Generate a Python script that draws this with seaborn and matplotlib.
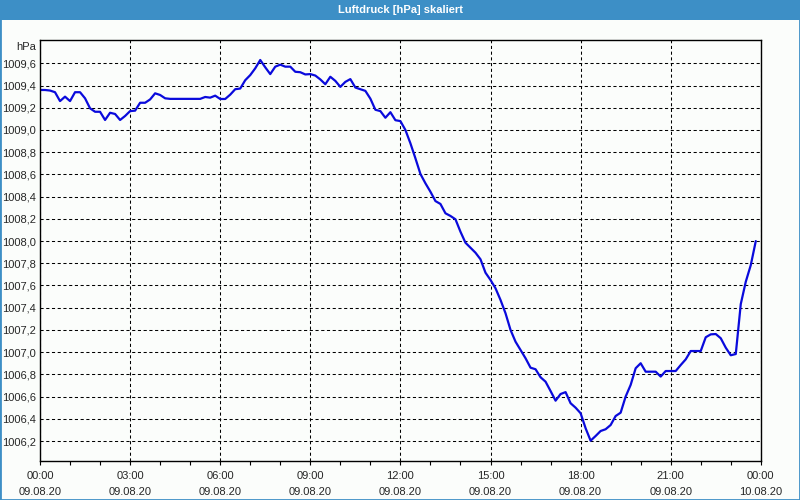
import matplotlib
matplotlib.use("Agg")
import matplotlib.pyplot as plt
import matplotlib.dates as mdates
from matplotlib.patches import Rectangle
from matplotlib.ticker import FixedLocator, FuncFormatter
import seaborn as sns
import numpy as np
import pandas as pd

# readings every 10 minutes, one row per hour (09.08.20 00:00 .. 23:50)
hour_00 = [1009.36, 1009.36, 1009.355, 1009.34, 1009.26, 1009.30]
hour_01 = [1009.26, 1009.34, 1009.34, 1009.285, 1009.195, 1009.164]
hour_02 = [1009.164, 1009.09, 1009.155, 1009.144, 1009.09, 1009.126]
hour_03 = [1009.17, 1009.174, 1009.245, 1009.245, 1009.275, 1009.33]
hour_04 = [1009.315, 1009.285, 1009.28, 1009.28, 1009.28, 1009.28]
hour_05 = [1009.28, 1009.28, 1009.28, 1009.297, 1009.291, 1009.309]
hour_06 = [1009.279, 1009.279, 1009.318, 1009.367, 1009.373, 1009.448]
hour_07 = [1009.494, 1009.555, 1009.63, 1009.564, 1009.503, 1009.57]
hour_08 = [1009.588, 1009.57, 1009.57, 1009.524, 1009.52, 1009.50]
hour_09 = [1009.503, 1009.49, 1009.455, 1009.412, 1009.479, 1009.442]
hour_10 = [1009.388, 1009.433, 1009.458, 1009.382, 1009.367, 1009.352]
hour_11 = [1009.282, 1009.182, 1009.17, 1009.11, 1009.16, 1009.088]
hour_12 = [1009.08, 1009.0, 1008.88, 1008.745, 1008.604, 1008.52]
hour_13 = [1008.444, 1008.36, 1008.334, 1008.25, 1008.226, 1008.196]
hour_14 = [1008.084, 1007.985, 1007.94, 1007.895, 1007.836, 1007.715]
hour_15 = [1007.65, 1007.575, 1007.47, 1007.35, 1007.2, 1007.094]
hour_16 = [1007.02, 1006.945, 1006.86, 1006.846, 1006.774, 1006.734]
hour_17 = [1006.65, 1006.563, 1006.623, 1006.64, 1006.54, 1006.50]
hour_18 = [1006.45, 1006.315, 1006.203, 1006.245, 1006.29, 1006.306]
hour_19 = [1006.344, 1006.425, 1006.455, 1006.60, 1006.705, 1006.855]
hour_20 = [1006.90, 1006.824, 1006.824, 1006.824, 1006.78, 1006.83]
hour_21 = [1006.83, 1006.83, 1006.884, 1006.935, 1007.01, 1007.01]
hour_22 = [1007.01, 1007.134, 1007.16, 1007.163, 1007.125, 1007.04]
hour_23 = [1006.972, 1006.983, 1007.433, 1007.634, 1007.784, 1008.0]

pressure = (hour_00 + hour_01 + hour_02 + hour_03 + hour_04 + hour_05 + hour_06 + hour_07 +
            hour_08 + hour_09 + hour_10 + hour_11 + hour_12 + hour_13 + hour_14 + hour_15 +
            hour_16 + hour_17 + hour_18 + hour_19 + hour_20 + hour_21 + hour_22 + hour_23)
times = pd.date_range("2020-08-09 00:00", periods=len(pressure), freq="10min")

y_ticks = [1006.2, 1006.4, 1006.6, 1006.8, 1007.0, 1007.2, 1007.4, 1007.6, 1007.8,
           1008.0, 1008.2, 1008.4, 1008.6, 1008.8, 1009.0, 1009.2, 1009.4, 1009.6]

bg = "#fbfdfb"
frame_blue = "#3d8fc6"

sns.set_style("white")
plt.rcParams["font.family"] = ["Liberation Sans", "DejaVu Sans"]
plt.rcParams["font.size"] = 8

fig = plt.figure(figsize=(8, 5), dpi=100, facecolor=bg)
ax = fig.add_axes([0.05, 0.078, 0.901, 0.842], facecolor=bg)

df = pd.DataFrame({"time": times, "hPa": pressure})
sns.lineplot(data=df, x="time", y="hPa", ax=ax, color="#0a0adc", linewidth=1.6)

ax.set_xlim(pd.Timestamp("2020-08-09 00:00"), pd.Timestamp("2020-08-10 00:00"))
ax.set_ylim(1006.02, 1009.81)
ax.set_xlabel("")
ax.set_ylabel("")

ax.xaxis.set_major_locator(mdates.HourLocator(byhour=range(0, 24, 3)))
ax.xaxis.set_minor_locator(mdates.HourLocator())
ax.xaxis.set_major_formatter(mdates.DateFormatter("%H:%M\n%d.%m.%y"))
ax.yaxis.set_major_locator(FixedLocator(y_ticks))
ax.yaxis.set_major_formatter(FuncFormatter(lambda v, p: f"{v:.1f}".replace(".", ",")))

ax.tick_params(axis="x", which="both", direction="out", length=3, width=0.8,
               color="black", pad=4, labelsize=8, bottom=True)
ax.tick_params(axis="y", length=0, pad=3, labelsize=8)
for lbl in ax.get_xticklabels():
    lbl.set_linespacing(1.75)

ax.grid(True, which="major", color="black", linewidth=0.75, linestyle=(0, (3, 2.5)))
for s in ax.spines.values():
    s.set_visible(True)
    s.set_color("black")
    s.set_linewidth(1.0)

ax.annotate("hPa", xy=(0, 1), xycoords="axes fraction", xytext=(-3, -5),
            textcoords="offset points", ha="right", va="center", fontsize=8)

# title bar and window frame
fig.patches.append(Rectangle((0, 1 - 20 / 500), 1, 20 / 500, transform=fig.transFigure,
                             facecolor=frame_blue, edgecolor="none", zorder=0))
fig.patches.append(Rectangle((0, 0), 1, 1, transform=fig.transFigure, fill=False,
                             edgecolor=frame_blue, linewidth=2.0, zorder=1))
fig.text(0.5, 1 - 10 / 500, "Luftdruck [hPa] skaliert", ha="center", va="center",
         color="white", fontsize=8, fontweight="bold")

fig.savefig("out.png", dpi=100, facecolor=bg)
